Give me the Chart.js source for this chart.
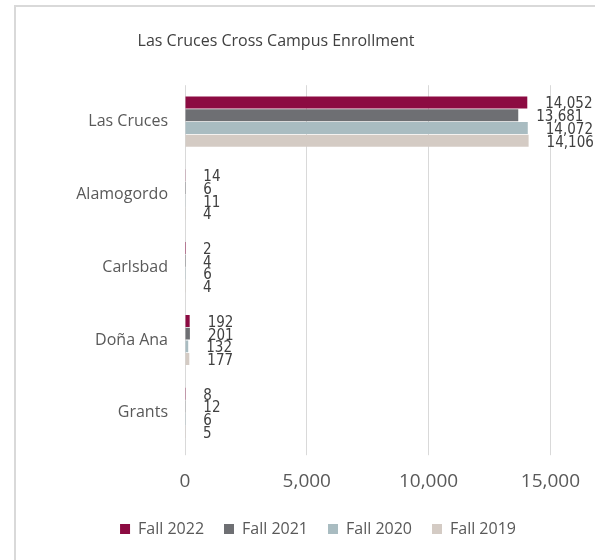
<!DOCTYPE html>
<html>
<head>
<meta charset="utf-8">
<script src="https://cdn.jsdelivr.net/npm/chart.js@4/dist/chart.umd.min.js"></script>
<style>
  html, body { margin: 0; padding: 0; background: #fff; }
  #frame {
    position: absolute; left: 14px; top: 5px; width: 700px; height: 700px;
    border: 2px solid #d9d9d9; box-sizing: border-box;
  }
  #chart { position: absolute; left: 0; top: 0; }
</style>
</head>
<body>
<div id="frame"></div>
<canvas id="chart" width="595" height="560"></canvas>
<script>
// Enrollment data
const campuses = ['Las Cruces', 'Alamogordo', 'Carlsbad', 'Doña Ana', 'Grants'];
const fall2022 = [14052, 14, 2, 192, 8];
const fall2021 = [13681, 6, 4, 201, 12];
const fall2020 = [14072, 11, 6, 132, 6];
const fall2019 = [14106, 4, 4, 177, 5];
const xTicks = [0, 5000, 10000, 15000];

const textColor = '#595959';

// Draw the value labels to the right of each bar
const valueLabels = {
  id: 'valueLabels',
  afterDatasetsDraw(chart) {
    const ctx = chart.ctx;
    ctx.save();
    ctx.font = '15px "Liberation Sans Narrow", "DejaVu Sans Condensed", sans-serif';
    ctx.fillStyle = '#404040';
    ctx.textAlign = 'left';
    ctx.textBaseline = 'middle';
    chart.data.datasets.forEach((ds, i) => {
      const meta = chart.getDatasetMeta(i);
      meta.data.forEach((bar, j) => {
        ctx.fillText(ds.data[j].toLocaleString('en-US'), bar.x + 18, bar.y + 2);
      });
    });
    ctx.restore();
  }
};

// Excel puts the legend a little right of the plot centre
const legendShift = {
  id: 'legendShift',
  afterLayout(chart) {
    const lg = chart.legend;
    lg.left += 42; lg.right += 42;
    lg.top -= 7; lg.bottom -= 7;
  }
};

new Chart(document.getElementById('chart'), {
  type: 'bar',
  data: {
    labels: campuses,
    datasets: [
      { label: 'Fall 2022', data: fall2022, backgroundColor: '#8c0b42' },
      { label: 'Fall 2021', data: fall2021, backgroundColor: '#6e6f73' },
      { label: 'Fall 2020', data: fall2020, backgroundColor: '#a9bcc1' },
      { label: 'Fall 2019', data: fall2019, backgroundColor: '#d4cbc4' }
    ]
  },
  options: {
    indexAxis: 'y',
    responsive: false,
    animation: false,
    layout: { padding: { left: 0, right: 43, top: 0, bottom: 6 } },
    datasets: { bar: { categoryPercentage: 0.7, barPercentage: 0.94 } },
    scales: {
      x: {
        min: 0, max: 15000,
        afterBuildTicks: (scale) => { scale.ticks = xTicks.map(v => ({ value: v })); },
        grid: { color: '#d9d9d9', lineWidth: 1, tickLength: 6 },
        border: { display: false },
        ticks: {
          color: textColor,
          padding: 15,
          font: { family: '"Open Sans", sans-serif', size: 19 },
          callback: (v) => Number(v).toLocaleString('en-US')
        }
      },
      y: {
        afterFit: (scale) => { scale.width = 185; },
        grid: { display: false },
        border: { display: false },
        ticks: {
          color: textColor,
          padding: 9,
          font: { family: '"Open Sans", sans-serif', size: 16 }
        }
      }
    },
    plugins: {
      title: {
        display: true,
        text: 'Las Cruces Cross Campus Enrollment',
        color: '#404040',
        font: { family: '"Open Sans", sans-serif', size: 16, weight: 'normal' },
        padding: { top: 32, bottom: 34 }
      },
      legend: {
        position: 'bottom',
        labels: {
          color: textColor,
          boxWidth: 10,
          boxHeight: 10,
          padding: 20,
          font: { family: '"Open Sans", sans-serif', size: 16 }
        }
      },
      tooltip: { enabled: false }
    }
  },
  plugins: [valueLabels, legendShift]
});
</script>
</body>
</html>
